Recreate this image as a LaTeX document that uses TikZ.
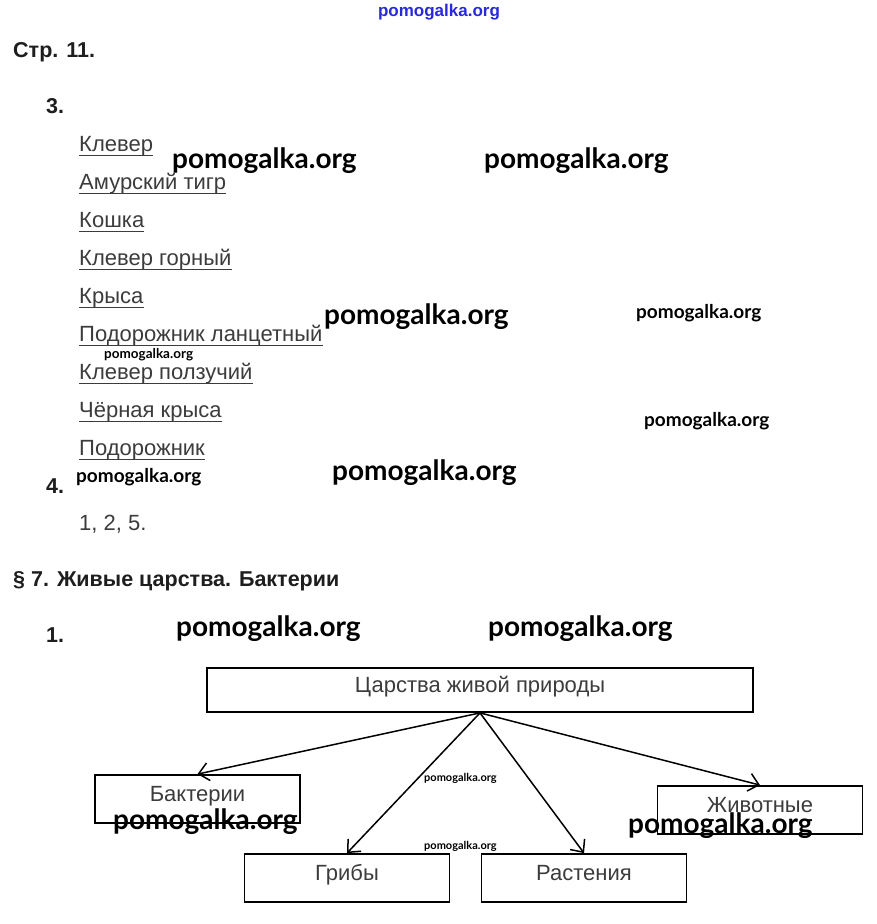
\documentclass[tikz,border=0pt]{standalone}
\usepackage{fontspec}
\setmainfont{Liberation Sans}
\newfontfamily\wmfont{Lato}
\usepackage{tikz}
\usetikzlibrary{arrows.meta,positioning}
\definecolor{ink}{RGB}{30,30,30}
\definecolor{soft}{RGB}{60,60,60}
\definecolor{wmblue}{RGB}{40,40,220}
\begin{document}
\begin{tikzpicture}[x=1pt,y=-1pt]
\tikzset{hd/.style={font=\fontsize{21.5}{24}\selectfont\bfseries,text=ink,inner sep=0,anchor=base west},
 lst/.style={font=\fontsize{22}{26}\selectfont,text=soft,inner sep=0,anchor=base west},
 box/.style={draw=black,line width=1.8pt,minimum width=205pt,minimum height=48pt,font=\fontsize{22}{26}\selectfont,text=soft,inner sep=0,text height=16pt,text depth=11pt},
 arr/.style={-{Straight Barb[length=10pt,width=18pt]},line width=1.5pt},
 wmL/.style={font=\wmfont\bfseries\fontsize{28}{30}\selectfont,inner sep=0,anchor=west},
 wmM/.style={font=\wmfont\bfseries\fontsize{19}{21}\selectfont,inner sep=0,anchor=west},
 wmS/.style={font=\wmfont\bfseries\fontsize{13.5}{15}\selectfont,inner sep=0,anchor=west},
 wmT/.style={font=\wmfont\bfseries\fontsize{11}{13}\selectfont,inner sep=0,anchor=west}}
\fill[white] (0,0) rectangle (876,924);
\useasboundingbox (0,0) rectangle (876,924);
% headings
\node[hd] (p11) at (13,57) {Стр. 11.};
\node[hd] (n3) at (46,113) {3.};
\foreach \t [count=\i] in {Клевер,Амурский тигр,Кошка,Клевер горный,Крыса,Подорожник ланцетный,Клевер ползучий,Чёрная крыса,Подорожник}{
 \node[lst] (k\i) at (79,{114+37.9*\i}) {\t};
 \draw[line width=1pt,soft] ([yshift=-4pt]k\i.base west) -- ([yshift=-4pt]k\i.base east);
}
\node[hd] (n4) at (46,493) {4.};
\node[lst] (ans) at (79,530) {1, 2, 5.};
\node[hd] (s7) at (13,586) {§ 7. Живые царства. Бактерии};
\node[hd] (n1) at (46,642) {1.};
% diagram
\node[box,minimum width=546pt,minimum height=44pt] (root) at (480,690) {Царства живой природы};
\node[box] (bac) at (197.5,799) {Бактерии};
\node[box] (fun) at (347,878) {Грибы};
\node[box] (pla) at (584,878) {Растения};
\node[box] (ani) at (760,810) {Животные};
\draw[arr] (root.south) -- (bac.north);
\draw[arr] (root.south) -- (fun.north);
\draw[arr] (root.south) -- (pla.north);
\draw[arr] (root.south) -- (ani.north);
% watermarks
\node[font=\fontsize{17}{19}\selectfont\bfseries,text=wmblue,inner sep=0] (wtop) at (439,12) {pomogalka.org};
\node[wmL] (w1) at (172,161) {pomogalka.org};
\node[wmL] (w2) at (484,161) {pomogalka.org};
\node[wmL] (w3) at (324,317) {pomogalka.org};
\node[wmM] (w4) at (636,313) {pomogalka.org};
\node[wmS] (w5) at (104,355) {pomogalka.org};
\node[wmM] (w6) at (644,421) {pomogalka.org};
\node[wmM] (w7) at (76,477) {pomogalka.org};
\node[wmL] (w8) at (332,473) {pomogalka.org};
\node[wmL] (w9) at (176,629) {pomogalka.org};
\node[wmL] (w10) at (488,629) {pomogalka.org};
\node[wmT] (w11) at (424,778) {pomogalka.org};
\node[wmL] (w12) at (113,822) {pomogalka.org};
\node[wmL] (w13) at (628,826) {pomogalka.org};
\node[wmT] (w14) at (424,846) {pomogalka.org};
\end{tikzpicture}
\end{document}
